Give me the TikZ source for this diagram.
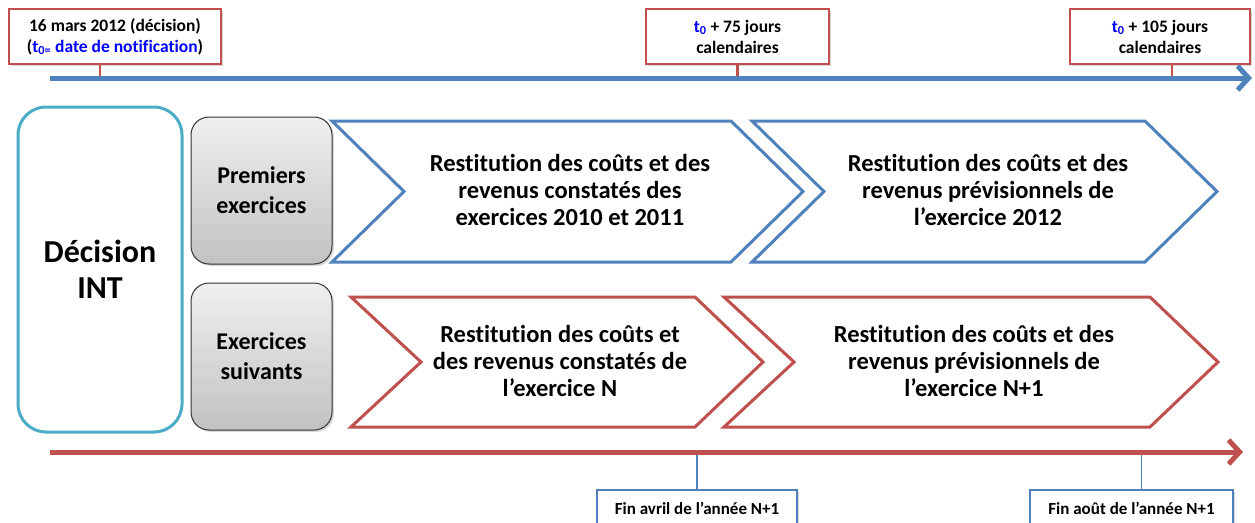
\documentclass[tikz,border=0pt]{standalone}
\usepackage{fontspec}
\setmainfont{Carlito}[Ligatures=NoCommon]
\usetikzlibrary{arrows.meta,shadows}
\definecolor{axblue}{HTML}{4F81BD}
\definecolor{axred}{HTML}{C0504D}
\definecolor{decyan}{HTML}{4BACC6}
\definecolor{tblue}{HTML}{0000FF}
\begin{document}
\begin{tikzpicture}[x=1pt,y=-1pt,
  shadowed/.style={drop shadow={opacity=0.3,shadow xshift=2pt,shadow yshift=-2pt}},
  datebox/.style={draw=axred,line width=2.5pt,fill=white,align=center,inner sep=0pt,
    minimum height=55pt,font=\fontsize{17.5}{21}\selectfont\bfseries,shadowed},
  finbox/.style={draw=axblue,line width=1.8pt,fill=white,inner sep=0pt,
    minimum height=36pt,font=\fontsize{17}{20}\selectfont\bfseries,shadowed},
  graybox/.style={draw=black!80,line width=1pt,rounded corners=18pt,top color=black!6,
    bottom color=black!24,align=center,minimum width=141pt,minimum height=147pt,
    font=\fontsize{24}{30}\selectfont\bfseries,shadowed},
  decbox/.style={draw=decyan,line width=3pt,rounded corners=28pt,fill=white,align=center,
    minimum width=164pt,minimum height=325pt,font=\fontsize{32}{36}\selectfont\bfseries},
  chevblue/.style={draw=axblue,line width=3pt,fill=white,line join=miter},
  chevred/.style={draw=axred,line width=3pt,fill=white,line join=miter},
  chevtext/.style={align=center,font=\fontsize{24.5}{27}\selectfont\bfseries},
  axisblue/.style={draw=axblue,line width=5pt,-{Straight Barb[length=11pt,width=24pt]}},
  axisred/.style={draw=axred,line width=5pt,-{Straight Barb[length=11pt,width=24pt]}},
  tickred/.style={draw=axred,line width=2.5pt},
  tickblue/.style={draw=axblue,line width=1.5pt}]
\useasboundingbox (0,0) rectangle (1255,522);
\clip (0,0) rectangle (1255,522);
\fill[white] (0,0) rectangle (1255,522);

% timeline coordinates
\coordinate (ta0) at (50,78);
\coordinate (ta1) at (1252,78);
\coordinate (ba0) at (50,452);
\coordinate (ba1) at (1243,452);

% top date boxes
\node[datebox,minimum width=212pt] (d1) at (115,36.5)
  {16 mars 2012 (décision)\\(\textcolor{tblue}{t\textsubscript{0=} date de notification})};
\node[datebox,minimum width=183pt] (d2) at (737.5,36.5)
  {\textcolor{tblue}{t\textsubscript{0}} + 75 jours\\calendaires};
\node[datebox,minimum width=180pt] (d3) at (1160,36.5)
  {\textcolor{tblue}{t\textsubscript{0}} + 105 jours\\calendaires};

% bottom boxes
\node[finbox,minimum width=200pt] (f1) at (697,508) {Fin avril de l’année N+1};
\node[finbox,minimum width=203pt] (f2) at (1131.5,508) {Fin août de l’année N+1};

% ticks
\draw[tickred] ([xshift=-15pt]d1.south) -- ([xshift=-15pt]d1.south |- ta0);
\draw[tickred] (d2.south) -- (d2.south |- ta0);
\draw[tickred] ([xshift=12pt]d3.south) -- ([xshift=12pt]d3.south |- ta0);
\draw[tickblue] (f1.north |- ba0) -- (f1.north);
\draw[tickblue] ([xshift=10pt]f2.north |- ba0) -- ([xshift=10pt]f2.north);

% axes
\draw[axisblue] (ta0) -- (ta1);
\draw[axisred] (ba0) -- (ba1);

% left boxes
\node[decbox] (dec) at (100,269.5) {Décision\\INT};
\node[graybox] (prem) at (261.5,190.5) {Premiers\\exercices};
\node[graybox] (suiv) at (261.5,356.5) {Exercices\\suivants};

% chevrons
\draw[chevblue] (332,121) -- (731,121) -- (803,191.5) -- (731,262) -- (332,262) -- (404,191.5) -- cycle;
\draw[chevblue] (752,121) -- (1145,121) -- (1217,191.5) -- (1145,262) -- (752,262) -- (824,191.5) -- cycle;
\draw[chevred] (351,297) -- (695,297) -- (763,362) -- (695,427) -- (351,427) -- (421,362) -- cycle;
\draw[chevred] (724,297) -- (1150,297) -- (1218,362) -- (1150,427) -- (724,427) -- (794,362) -- cycle;

\node[chevtext] (tb1) at (570,190) {Restitution des coûts et des\\revenus constatés des\\exercices 2010 et 2011};
\node[chevtext] (tb2) at (988,190) {Restitution des coûts et des\\revenus prévisionnels de\\l’exercice 2012};
\node[chevtext] (tr1) at (560,361) {Restitution des coûts et\\des revenus constatés de\\l’exercice N};
\node[chevtext] (tr2) at (974,361) {Restitution des coûts et des\\revenus prévisionnels de\\l’exercice N+1};
\end{tikzpicture}
\end{document}
